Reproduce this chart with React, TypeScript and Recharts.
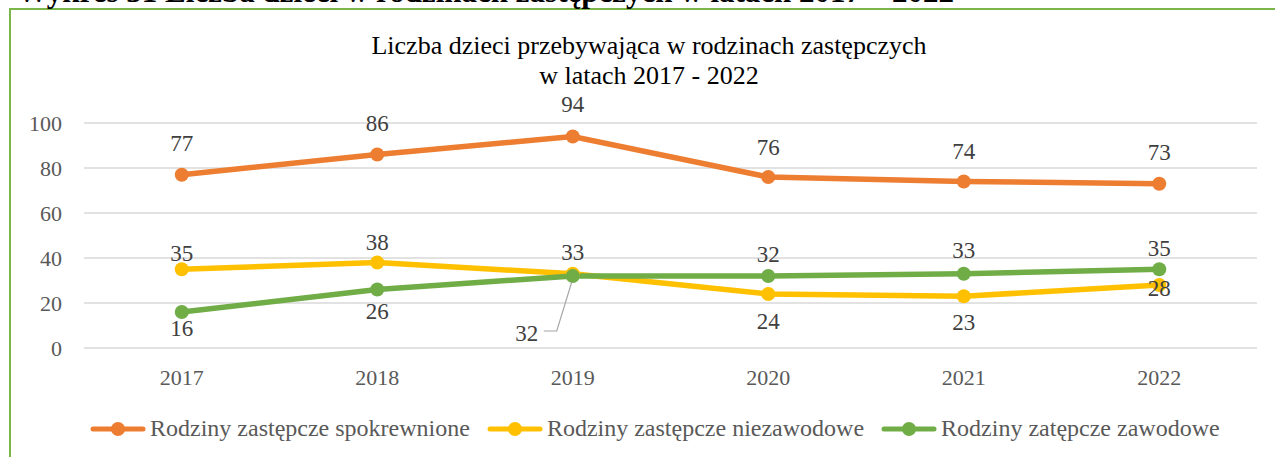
import React from 'react';
import {
  LineChart,
  Line,
  XAxis,
  YAxis,
  CartesianGrid,
  LabelList,
} from 'recharts';

const years = ['2017', '2018', '2019', '2020', '2021', '2022'];
const spokrewnione = [77, 86, 94, 76, 74, 73];
const niezawodowe = [35, 38, 33, 24, 23, 28];
const zawodowe = [16, 26, 32, 32, 33, 35];
const yTicks = [0, 20, 40, 60, 80, 100];

const seriesNames = [
  'Rodziny zastępcze spokrewnione',
  'Rodziny zastępcze niezawodowe',
  'Rodziny zatępcze zawodowe',
];
const colors = ['#ED7D31', '#FFC000', '#70AD47'];

// label offsets (dx, dy) from the point, per series
const orangeLabels = [[0, -31], [0, -31], [0, -32], [0, -30], [0, -30], [0, -31]];
const yellowLabels = [[0, -16], [0, -20], [0, -21], [0, 27], [0, 26], [0, 3]];
const greenLabels = [[0, 16], [0, 22], [-46, 57], [0, -22], [0, -23], [0, -21]];

const data = years.map((year, i) => ({
  year,
  spokrewnione: spokrewnione[i],
  niezawodowe: niezawodowe[i],
  zawodowe: zawodowe[i],
}));

const FONT = '"Liberation Serif", "Times New Roman", serif';

function makeLabel(offsets: number[][], leaderIndex?: number) {
  return (props: any) => {
    const { x, y, value, index } = props;
    const [dx, dy] = offsets[index] || [0, -20];
    const lx = x + dx;
    const ly = y + dy;
    return (
      <g>
        {leaderIndex === index && (
          <polyline
            points={`${lx + 17},${ly - 2} ${lx + 30},${ly - 2} ${x - 1},${y + 6}`}
            fill="none"
            stroke="#A6A6A6"
            strokeWidth={1.2}
          />
        )}
        <text
          x={lx}
          y={ly}
          textAnchor="middle"
          dominantBaseline="central"
          fill="#404040"
          fontSize={23}
          fontFamily={FONT}
        >
          {value}
        </text>
      </g>
    );
  };
}

function LegendIcon({ color }: { color: string }) {
  return (
    <svg width={56} height={16} style={{ display: 'block' }}>
      <line x1={3} y1={8} x2={53} y2={8} stroke={color} strokeWidth={5} strokeLinecap="round" />
      <circle cx={28} cy={8} r={7} fill={color} />
    </svg>
  );
}

export default function App() {
  return (
    <div
      style={{
        position: 'absolute',
        left: 0,
        top: 0,
        width: 1275,
        height: 457,
        overflow: 'hidden',
        background: '#fff',
        fontFamily: FONT,
      }}
    >
      <div
        style={{
          position: 'absolute',
          left: 9,
          top: 8,
          width: 1400,
          height: 600,
          border: '2px solid #7AB648',
        }}
      />
      <LineChart
        width={1275}
        height={457}
        data={data}
        margin={{ top: 123, right: 18, bottom: 0, left: 0 }}
        style={{ position: 'absolute', left: 0, top: 0 }}
      >
        <CartesianGrid vertical={false} stroke="#D9D9D9" strokeWidth={1.5} />
        <XAxis
          dataKey="year"
          height={109}
          axisLine={false}
          tickLine={false}
          tickSize={0}
          tickMargin={21}
          padding={{ left: 97.75, right: 97.75 }}
          tick={{ fill: '#595959', fontSize: 22, fontFamily: FONT }}
        />
        <YAxis
          width={84}
          domain={[0, 100]}
          ticks={yTicks}
          axisLine={false}
          tickLine={false}
          tickSize={0}
          tickMargin={22}
          tick={{ fill: '#595959', fontSize: 22, fontFamily: FONT }}
        />
        <Line
          dataKey="spokrewnione"
          stroke={colors[0]}
          strokeWidth={5.5}
          dot={{ r: 7, fill: colors[0], stroke: colors[0], strokeWidth: 0 }}
          isAnimationActive={false}
        >
          <LabelList dataKey="spokrewnione" content={makeLabel(orangeLabels)} />
        </Line>
        <Line
          dataKey="niezawodowe"
          stroke={colors[1]}
          strokeWidth={5.5}
          dot={{ r: 7, fill: colors[1], stroke: colors[1], strokeWidth: 0 }}
          isAnimationActive={false}
        >
          <LabelList dataKey="niezawodowe" content={makeLabel(yellowLabels)} />
        </Line>
        <Line
          dataKey="zawodowe"
          stroke={colors[2]}
          strokeWidth={5.5}
          dot={{ r: 7, fill: colors[2], stroke: colors[2], strokeWidth: 0 }}
          isAnimationActive={false}
        >
          <LabelList dataKey="zawodowe" content={makeLabel(greenLabels, 2)} />
        </Line>
      </LineChart>
      <svg
        width={1275}
        height={100}
        style={{ position: 'absolute', left: 0, top: 0, pointerEvents: 'none' }}
      >
        <text x={17} y={2} fontSize={31} fontWeight="bold" fill="#000" fontFamily={FONT}>
          Wykres 31 Liczba dzieci w rodzinach zastępczych w latach 2017 – 2022
        </text>
        <text x={649} y={54} textAnchor="middle" fontSize={26} fill="#000" fontFamily={FONT}>
          Liczba dzieci przebywająca w rodzinach zastępczych
        </text>
        <text x={649} y={84} textAnchor="middle" fontSize={26} fill="#000" fontFamily={FONT}>
          w latach 2017 - 2022
        </text>
      </svg>
      <div
        style={{
          position: 'absolute',
          left: 90,
          top: 415,
          display: 'flex',
          alignItems: 'center',
          gap: 17,
          fontSize: 24,
          color: '#595959',
          whiteSpace: 'nowrap',
        }}
      >
        {seriesNames.map((name, i) => (
          <div key={name} style={{ display: 'flex', alignItems: 'center' }}>
            <LegendIcon color={colors[i]} />
            <span style={{ marginLeft: 4 }}>{name}</span>
          </div>
        ))}
      </div>
    </div>
  );
}
